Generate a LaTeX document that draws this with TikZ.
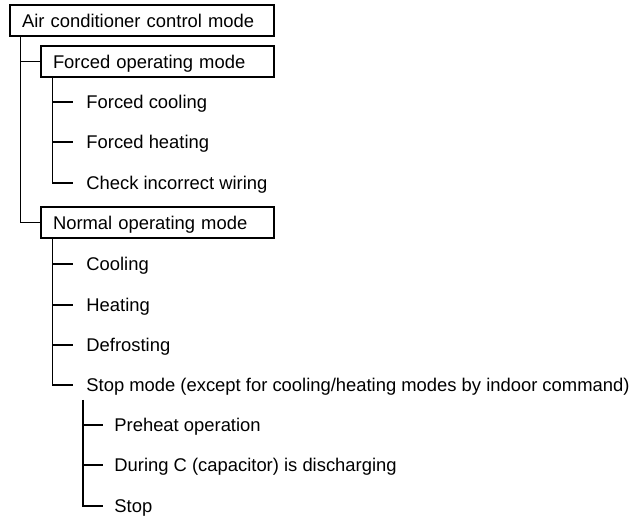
\documentclass[tikz,border=0pt]{standalone}
\usepackage{fontspec}
\setmainfont{Liberation Sans}
\usepackage{tikz}
\usetikzlibrary{positioning}
\tikzset{
  tree/.style={black, line width=0.6pt},
  modebox/.style={draw=black, line width=0.6pt, fill=white,
                  inner xsep=6pt, inner ysep=0pt, align=left,
                  minimum height=15.5pt, text height=6.6pt, text depth=0pt,
                  font=\fontsize{9.2pt}{11pt}\selectfont},
  leaf/.style={anchor=west, inner sep=0pt, text height=6.6pt, text depth=0pt,
               font=\fontsize{9.2pt}{11pt}\selectfont},
}
\begin{document}
\begin{tikzpicture}[x=0.5pt,y=-0.5pt]
  \path[use as bounding box] (0,0) rectangle (637,517);

  \node[modebox, text width=120pt] (air) at (142,20.5) {Air conditioner control mode};
  \node[modebox, text width=104.5pt] (forced) at (157.5,61.5) {Forced operating mode};
  \node[modebox, text width=104.5pt] (normal) at (157.5,222.5) {Normal operating mode};

  \node[leaf] (fcool) at (86,102) {Forced cooling};
  \node[leaf] (fheat) at (86,142) {Forced heating};
  \node[leaf] (fwire) at (86,183) {Check incorrect wiring};

  \node[leaf] (cool) at (86,264) {Cooling};
  \node[leaf] (heat) at (86,305) {Heating};
  \node[leaf] (defrost) at (86,345) {Defrosting};
  \node[leaf] (stop) at (86,385) {Stop mode (except for cooling/heating modes by indoor command)};

  \node[leaf] (preheat) at (114,425) {Preheat operation};
  \node[leaf] (discharge) at (114,465) {During C (capacitor) is discharging};
  \node[leaf] (halt) at (114,506) {Stop};

  % trunk
  \coordinate (trunk) at ([xshift=5.5pt]air.south west);
  \draw[tree] (trunk) |- (normal.west);
  \draw[tree] (trunk |- forced.west) -- (forced.west);

  % forced operating mode
  \coordinate (fstem) at ([xshift=6pt]forced.south west);
  \draw[tree] (fstem) |- ([xshift=-6.5pt]fwire.west);
  \foreach \n in {fcool,fheat}
    \draw[tree] (fstem |- \n.west) -- ([xshift=-6.5pt]\n.west);

  % normal operating mode
  \coordinate (nstem) at ([xshift=6pt]normal.south west);
  \draw[tree] (nstem) |- ([xshift=-6.5pt]stop.west);
  \foreach \n in {cool,heat,defrost}
    \draw[tree] (nstem |- \n.west) -- ([xshift=-6.5pt]\n.west);

  % stop mode
  \coordinate (sstem) at ([xshift=-1.5pt,yshift=-4pt]stop.south west);
  \draw[tree] (sstem) |- ([xshift=-5.5pt]halt.west);
  \foreach \n in {preheat,discharge}
    \draw[tree] (sstem |- \n.west) -- ([xshift=-5.5pt]\n.west);
\end{tikzpicture}
\end{document}
